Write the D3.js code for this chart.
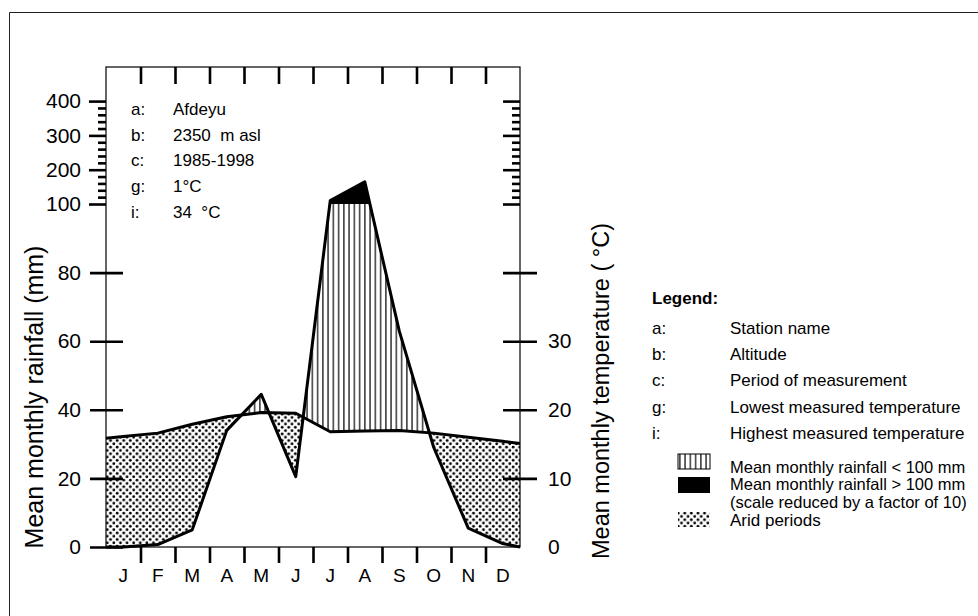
<!DOCTYPE html>
<html>
<head>
<meta charset="utf-8">
<script src="https://cdn.jsdelivr.net/npm/d3@7"></script>
<style>
  body { margin: 0; background: #fff; }
  text { font-family: "Liberation Sans", Arial, sans-serif; fill: #000; white-space: pre; }
</style>
</head>
<body>
<div id="chart"></div>
<script>
// station data
const months = ["J", "F", "M", "A", "M", "J", "J", "A", "S", "O", "N", "D"];
const rainfall = [0, 0.7, 5, 34, 44.5, 20.5, 110, 165, 63, 29, 5.5, 1];       // mm
const temperature = [16.1, 16.6, 17.9, 19.0, 19.6, 19.5, 16.8, 16.9, 17.0, 16.6, 16.0, 15.4]; // deg C
const stationKeys = ["a:", "b:", "c:", "g:", "i:"];
const stationValues = ["Afdeyu", "2350  m asl", "1985-1998", "1°C", "34  °C"];
const legendKeys = ["a:", "b:", "c:", "g:", "i:"];
const legendLabels = ["Station name", "Altitude", "Period of measurement",
                      "Lowest measured temperature", "Highest measured temperature"];
const rainTicks = [0, 20, 40, 60, 80];
const rainTicksHigh = [100, 200, 300, 400];
const tempTicks = [0, 10, 20, 30, 40];

const W = 978, H = 616;
const boxL = 106, boxR = 520, boxT = 67, boxB = 547;

const svg = d3.select("#chart").append("svg")
    .attr("width", W)
    .attr("height", H);

// outer frame (only top and left edges show)
svg.append("path")
    .attr("d", `M9.5,616 V12.5 H978`)
    .attr("fill", "none")
    .attr("stroke", "#222")
    .attr("stroke-width", 1);

const x = d3.scaleLinear().domain([0, 12]).range([boxL, boxR]);
// above 100 mm the scale is reduced by a factor of 10
const yRain = d3.scaleLinear().domain([0, 100, 400]).range([boxB, boxB - 343, boxB - 343 - 102.9]);
const yTemp = d3.scaleLinear().domain([0, 50]).range([boxB, boxB - 343]);

// points at mid-month, the ends carried on to the box edges
function withEdges(vals, floor) {
    const n = vals.length;
    let l = vals[0] - (vals[1] - vals[0]) / 2;
    let r = vals[n - 1] + (vals[n - 1] - vals[n - 2]) / 2;
    if (floor) { l = Math.max(0, l); r = Math.max(0, r); }
    return [[0, l]].concat(vals.map((v, i) => [i + 0.5, v])).concat([[12, r]]);
}
const rainPts = withEdges(rainfall, true).map(d => [x(d[0]), yRain(d[1])]);
const tempPts = withEdges(temperature, false).map(d => [x(d[0]), yTemp(d[1])]);

const defs = svg.append("defs");
const hatch = defs.append("pattern")
    .attr("id", "hatch")
    .attr("patternUnits", "userSpaceOnUse")
    .attr("width", 5.25).attr("height", 10);
hatch.append("line")
    .attr("x1", 2.6).attr("x2", 2.6).attr("y1", 0).attr("y2", 10)
    .attr("stroke", "#000").attr("stroke-width", 1.2);

const dots = defs.append("pattern")
    .attr("id", "dots")
    .attr("patternUnits", "userSpaceOnUse")
    .attr("width", 6.6).attr("height", 6.6);
[[1.65, 1.65], [4.95, 4.95]].forEach(p => {
    dots.append("circle").attr("cx", p[0]).attr("cy", p[1]).attr("r", 1.4).attr("fill", "#000");
});

function clip(id, pts, yEdge) {
    const area = d3.area().x(d => d[0]).y0(yEdge).y1(d => d[1]);
    defs.append("clipPath").attr("id", id).append("path").attr("d", area(pts));
}
clip("belowRain", rainPts, boxB);
clip("aboveRain", rainPts, 0);
clip("belowTemp", tempPts, boxB);
clip("aboveTemp", tempPts, 0);

// humid period, hatched
svg.append("g").attr("clip-path", "url(#belowRain)")
  .append("g").attr("clip-path", "url(#aboveTemp)")
  .append("rect")
    .attr("x", boxL).attr("y", yRain(100))
    .attr("width", boxR - boxL).attr("height", boxB - yRain(100))
    .attr("fill", "url(#hatch)");

// rainfall above 100 mm, solid
svg.append("g").attr("clip-path", "url(#belowRain)")
  .append("rect")
    .attr("x", boxL).attr("y", boxT)
    .attr("width", boxR - boxL).attr("height", yRain(100) - boxT)
    .attr("fill", "#000");

// arid periods, dotted
svg.append("g").attr("clip-path", "url(#aboveRain)")
  .append("g").attr("clip-path", "url(#belowTemp)")
  .append("rect")
    .attr("x", boxL).attr("y", boxT)
    .attr("width", boxR - boxL).attr("height", boxB - boxT)
    .attr("fill", "url(#dots)");

const line = d3.line();
svg.append("path").attr("d", line(tempPts))
    .attr("fill", "none").attr("stroke", "#000").attr("stroke-width", 3).attr("stroke-linejoin", "round");
svg.append("path").attr("d", line(rainPts))
    .attr("fill", "none").attr("stroke", "#000").attr("stroke-width", 3).attr("stroke-linejoin", "round");

// box
svg.append("rect")
    .attr("x", boxL).attr("y", boxT)
    .attr("width", boxR - boxL).attr("height", boxB - boxT)
    .attr("fill", "none").attr("stroke", "#000").attr("stroke-width", 1.2);

function styleAxis(g, size) {
    g.select(".domain").remove();
    g.selectAll(".tick line").attr("stroke", "#000").attr("stroke-width", 2.6);
    g.selectAll(".tick text").attr("font-size", size).attr("font-family", "Liberation Sans, Arial, sans-serif");
}

// left axis, 0-80 ticks cross the box edge
svg.append("g")
    .attr("transform", `translate(${boxL},0)`)
    .call(d3.axisLeft(yRain).tickValues(rainTicks).tickSize(16).tickPadding(9))
    .call(g => styleAxis(g, 21))
    .call(g => g.selectAll(".tick line").attr("x2", -16).attr("x1", 17));
svg.append("g")
    .attr("transform", `translate(${boxL},0)`)
    .call(d3.axisLeft(yRain).tickValues(rainTicksHigh).tickSize(17).tickPadding(8))
    .call(g => styleAxis(g, 21));
svg.append("g")
    .attr("transform", `translate(${boxL},0)`)
    .call(d3.axisLeft(yRain).tickValues(d3.range(120, 400, 20).filter(v => v % 100)).tickSize(8).tickFormat(""))
    .call(g => styleAxis(g, 21));

// right axis
svg.append("g")
    .attr("transform", `translate(${boxR},0)`)
    .call(d3.axisRight(yTemp).tickValues(tempTicks).tickSize(17).tickPadding(11)
        .tickFormat(d => d < 40 ? d : ""))
    .call(g => styleAxis(g, 21))
    .call(g => g.selectAll(".tick line").attr("x1", -17).filter(d => d === 0).remove());
svg.append("g")
    .attr("transform", `translate(${boxR},0)`)
    .call(d3.axisLeft(yRain).tickValues(rainTicksHigh).tickSize(17).tickFormat(""))
    .call(g => styleAxis(g, 21))
    .call(g => g.selectAll(".tick line").attr("x2", -17));
svg.append("g")
    .attr("transform", `translate(${boxR},0)`)
    .call(d3.axisLeft(yRain).tickValues(d3.range(120, 400, 20).filter(v => v % 100)).tickSize(8).tickFormat(""))
    .call(g => styleAxis(g, 21));

// month ticks top and bottom, labels at mid-month
svg.append("g")
    .attr("transform", `translate(0,${boxB})`)
    .call(d3.axisBottom(x).tickValues(d3.range(1, 12)).tickSize(16).tickFormat(""))
    .call(g => styleAxis(g, 19));
svg.append("g")
    .attr("transform", `translate(0,${boxT})`)
    .call(d3.axisBottom(x).tickValues(d3.range(1, 12)).tickSize(17).tickFormat(""))
    .call(g => styleAxis(g, 19));
svg.append("g")
    .selectAll("text")
    .data(months)
    .join("text")
    .attr("x", (d, i) => x(i + 0.5))
    .attr("y", 575)
    .attr("dy", "0.35em")
    .attr("text-anchor", "middle")
    .attr("font-size", 19)
    .text(d => d);

// axis titles
svg.append("text")
    .attr("transform", `translate(43,397) rotate(-90)`)
    .attr("text-anchor", "middle")
    .attr("font-size", 25)
    .text("Mean monthly rainfall (mm)");
svg.append("text")
    .attr("transform", `translate(609,391) rotate(-90)`)
    .attr("text-anchor", "middle")
    .attr("font-size", 23.5)
    .text("Mean monthly temperature ( °C)");

// station info inside the box
stationKeys.forEach((k, i) => {
    const yy = 109 + i * 25.7;
    svg.append("text").attr("x", 131).attr("y", yy).attr("dy", "0.35em")
        .attr("font-size", 17).text(k);
    svg.append("text").attr("x", 173).attr("y", yy).attr("dy", "0.35em")
        .attr("font-size", 17).text(stationValues[i]);
});

// legend
svg.append("text").attr("x", 652).attr("y", 298).attr("dy", "0.35em")
    .attr("font-size", 17).attr("font-weight", "bold").text("Legend:");
legendKeys.forEach((k, i) => {
    const yy = 328 + i * 26.2;
    svg.append("text").attr("x", 652).attr("y", yy).attr("dy", "0.35em")
        .attr("font-size", 17).text(k);
    svg.append("text").attr("x", 730).attr("y", yy).attr("dy", "0.35em")
        .attr("font-size", 17).text(legendLabels[i]);
});
svg.append("rect").attr("x", 678).attr("y", 454).attr("width", 32).attr("height", 15)
    .attr("fill", "url(#hatch)").attr("stroke", "#000").attr("stroke-width", 1);
svg.append("rect").attr("x", 678).attr("y", 477).attr("width", 32).attr("height", 16)
    .attr("fill", "#000");
svg.append("rect").attr("x", 678).attr("y", 512).attr("width", 32).attr("height", 15)
    .attr("fill", "url(#dots)");
svg.append("text").attr("x", 730).attr("y", 467).attr("dy", "0.35em")
    .attr("font-size", 16.5).text("Mean monthly rainfall < 100 mm");
svg.append("text").attr("x", 730).attr("y", 484).attr("dy", "0.35em")
    .attr("font-size", 16.5).text("Mean monthly rainfall > 100 mm");
svg.append("text").attr("x", 730).attr("y", 502).attr("dy", "0.35em")
    .attr("font-size", 16.5).text("(scale reduced by a factor of 10)");
svg.append("text").attr("x", 730).attr("y", 520).attr("dy", "0.35em")
    .attr("font-size", 17).text("Arid periods");
</script>
</body>
</html>
